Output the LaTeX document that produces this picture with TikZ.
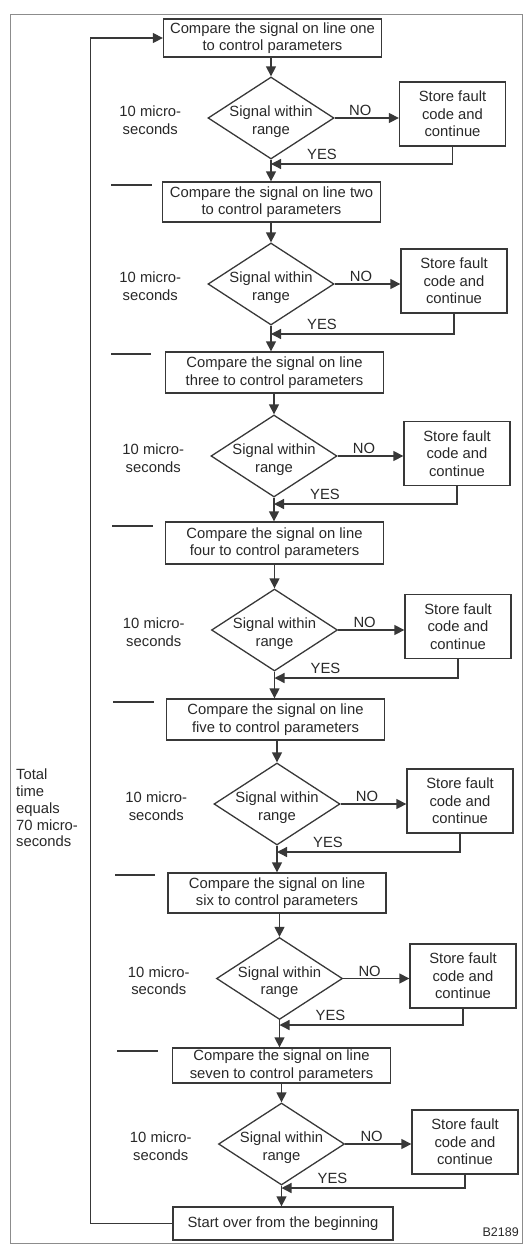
\documentclass[tikz,border=0pt]{standalone}
\usepackage{fontspec}
\setmainfont{Liberation Sans}
\usetikzlibrary{arrows.meta,shapes.geometric}
\definecolor{linec}{HTML}{383838}
\definecolor{txtc}{HTML}{282828}
\definecolor{framec}{HTML}{8C8C8C}
\newcommand{\fs}{\fontsize{14.8}{17.5}\selectfont}
\tikzset{
  ln/.style={draw=linec, line width=1.3pt},
  arr/.style={ln, -{Triangle[length=10pt,width=10pt]}},
  cmpbox/.style={draw=linec, line width=1.3pt, rectangle, minimum width=218pt, align=center, inner sep=0pt, font=\fs, text=txtc},
  dia/.style={draw=linec, line width=1.3pt, diamond, minimum width=126pt, minimum height=82pt, inner sep=0pt},
  storebox/.style={draw=linec, line width=1.3pt, rectangle, minimum width=106pt, minimum height=64pt, align=center, inner sep=0pt, font=\fs, text=txtc},
  lbl/.style={font=\fs, text=txtc, inner sep=0pt, align=center},
  dlabel/.style={label={[lbl, yshift=-3.5pt]center:{Signal within\\range}}}
}
\begin{document}
\begin{tikzpicture}[x=1pt,y=-1pt]
\useasboundingbox (0,0) rectangle (528,1250);
\draw[framec, line width=1pt] (10,14) rectangle (522,1243);

% section 1
\node[cmpbox, minimum height=38pt] (b1) at (272.5,38) {Compare the signal on line one\\to control parameters};
\node[dia, dlabel] (d1) at (271,118) {};
\node[storebox] (s1) at (452.5,114) {Store fault\\code and\\continue};
\coordinate (m1) at (271,164);
% section 2
\node[cmpbox, minimum height=40pt] (b2) at (271.5,202) {Compare the signal on line two\\to control parameters};
\node[dia, dlabel] (d2) at (271,284) {};
\node[storebox] (s2) at (454,281) {Store fault\\code and\\continue};
\coordinate (m2) at (271,334);
% section 3
\node[cmpbox, minimum height=41pt] (b3) at (274.5,372.5) {Compare the signal on line\\three to control parameters};
\node[dia, dlabel] (d3) at (274,456) {};
\node[storebox] (s3) at (457,453.5) {Store fault\\code and\\continue};
\coordinate (m3) at (274,504);
% section 4
\node[cmpbox, minimum height=42pt] (b4) at (274.5,543) {Compare the signal on line\\four to control parameters};
\node[dia, dlabel] (d4) at (274.5,630) {};
\node[storebox] (s4) at (458,626.5) {Store fault\\code and\\continue};
\coordinate (m4) at (274.5,678);
% section 5
\node[cmpbox, minimum height=41pt] (b5) at (275.5,719.5) {Compare the signal on line\\five to control parameters};
\node[dia, dlabel] (d5) at (277,804) {};
\node[storebox] (s5) at (460,801) {Store fault\\code and\\continue};
\coordinate (m5) at (277,852);
% section 6
\node[cmpbox, minimum height=40pt] (b6) at (277,893) {Compare the signal on line\\six to control parameters};
\node[dia, dlabel] (d6) at (279.5,978.5) {};
\node[storebox] (s6) at (463,976) {Store fault\\code and\\continue};
\coordinate (m6) at (279.5,1025);
% section 7
\node[cmpbox, minimum height=35pt] (b7) at (281.5,1065.5) {Compare the signal on line\\seven to control parameters};
\node[dia, dlabel] (d7) at (281.5,1144) {};
\node[storebox] (s7) at (465,1142) {Store fault\\code and\\continue};
\coordinate (m7) at (281.5,1188);
% start over
\node[cmpbox, minimum width=220pt, minimum height=33pt] (st) at (283,1223.5) {Start over from the beginning};

% connectors
\foreach \i/\j in {1/2,2/3,3/4,4/5,5/6,6/7}{
  \draw[arr] (d\i.north |- b\i.south) -- (d\i.north);
  \draw[arr] (d\i.east) -- (d\i.east -| s\i.west)
     node[lbl, anchor=south, pos=0.4, yshift=1.5pt] (no\i) {NO};
  \draw[arr] (s\i.south) |- (m\i);
  \draw[arr] (d\i.south) -- (d\i.south |- b\j.north);
  \node[lbl, anchor=east] (t\i) at ([xshift=-26pt, yshift=-2pt]d\i.west) {10 micro-\\seconds};
}
\draw[arr] (d7.north |- b7.south) -- (d7.north);
\draw[arr] (d7.east) -- (d7.east -| s7.west) node[lbl, anchor=south, pos=0.4, yshift=1.5pt] (no7) {NO};
\draw[arr] (s7.south) |- (m7);
\draw[arr] (d7.south) -- (d7.south |- st.north);
\node[lbl, anchor=east] (t7) at ([xshift=-26pt, yshift=-2pt]d7.west) {10 micro-\\seconds};

% YES labels
\foreach \i in {1,...,7}{
  \node[lbl, anchor=south] (ys\i) at ([xshift=51pt, yshift=4pt]m\i) {YES};
}

% loop back
\draw[arr] (st.west) -- ++(-82,0) |- (b1.west);

% time separators
\draw[ln] (111,185) -- (152,185);
\draw[ln] (111,354) -- (151,354);
\draw[ln] (112,526) -- (153,526);
\draw[ln] (113,702) -- (154,702);
\draw[ln] (115,875) -- (155,875);
\draw[ln] (117,1051) -- (158,1051);

\node[lbl, align=left, anchor=west, font=\fontsize{14.8}{16.8}\selectfont] (tt) at (16,808) {Total\\time\\equals\\70 micro-\\seconds};
\node[lbl, anchor=east, font=\fontsize{12.5}{14}\selectfont] (code) at (519,1232) {B2189};
\end{tikzpicture}
\end{document}
